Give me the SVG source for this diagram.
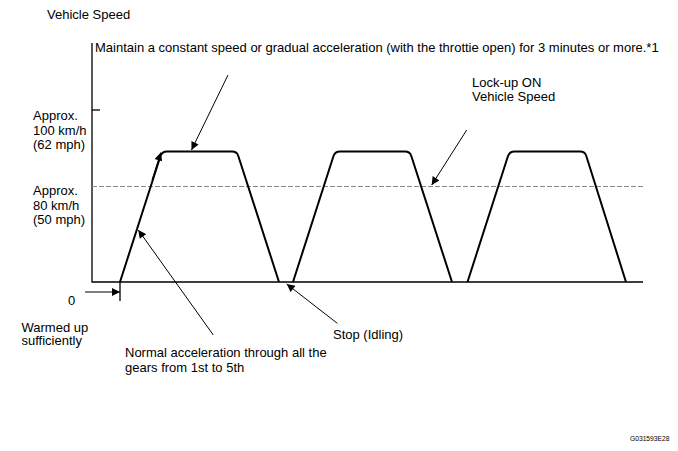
<svg xmlns="http://www.w3.org/2000/svg" width="678" height="451" viewBox="0 0 678 451">
<style>
text{font-family:"Liberation Sans",Arial,sans-serif;font-size:13px;fill:#000}
.small{font-size:6.7px}
.axis{stroke:#000;stroke-width:1.3;fill:none}
.curve{stroke:#000;stroke-width:2;fill:none;stroke-linejoin:round}
.dash{stroke:#888;stroke-width:1;stroke-dasharray:5,2;fill:none}
.arr{stroke:#000;stroke-width:1;fill:none;marker-end:url(#ah)}
</style>
<defs>
<marker id="ah" viewBox="0 0 10 10" refX="10" refY="5" markerWidth="10" markerHeight="8" markerUnits="userSpaceOnUse" orient="auto">
<path d="M0,0 L10,5 L0,10 Z" fill="#000"/>
</marker>
</defs>
<rect width="678" height="451" fill="#fff"/>
<g id="axes">
<path class="axis" d="M92,43 V282 H643"/>
<path class="axis" d="M92,110 H100"/>
<path class="axis" d="M120,282 V301"/>
<path class="dash" d="M92,186.5 H643"/>
</g>
<g id="speed-profile">
<path class="curve" d="M120,282 L160.5,156 Q162,151.5 167,151.5 L232,151.5 Q237,151.5 238.3,156 L279,282"/>
<path class="curve" d="M293,282 L333.5,156 Q335,151.5 340,151.5 L405,151.5 Q410,151.5 411.3,156 L452,282"/>
<path class="curve" d="M467.5,282 L508,156 Q509.5,151.5 514.5,151.5 L580,151.5 Q585,151.5 586.3,156 L626,282"/>
</g>
<g id="connectors">
<path class="arr" d="M228,75 L191.5,150"/>
<path class="arr" d="M466.7,130 L431.7,185"/>
<path class="arr" d="M213.3,335 L138.3,230"/>
<path class="arr" d="M337.3,323.3 L286.7,284"/>
<path class="arr" d="M85,292 L120,292"/>
<path class="arr" d="M152,180 L160.8,152.5"/>
</g>
<g id="labels">
<text x="47" y="19">Vehicle Speed</text>
<text x="95" y="52">Maintain a constant speed or gradual acceleration (with the throttie open) for 3 minutes or more.*1</text>
<text x="33" y="120">Approx.</text>
<text x="33" y="134.5">100 km/h</text>
<text x="33" y="149">(62 mph)</text>
<text x="33" y="195">Approx.</text>
<text x="33" y="209.5">80 km/h</text>
<text x="33" y="224">(50 mph)</text>
<text x="68" y="305">0</text>
<text x="21.5" y="331.5">Warmed up</text>
<text x="21.5" y="345">sufficiently</text>
<text x="125" y="357">Normal acceleration through all the</text>
<text x="125" y="372">gears from 1st to 5th</text>
<text x="333" y="339">Stop (Idling)</text>
<text x="472" y="87">Lock-up ON</text>
<text x="472" y="101">Vehicle Speed</text>
<text class="small" x="630" y="441">G031593E28</text>
</g>
</svg>
